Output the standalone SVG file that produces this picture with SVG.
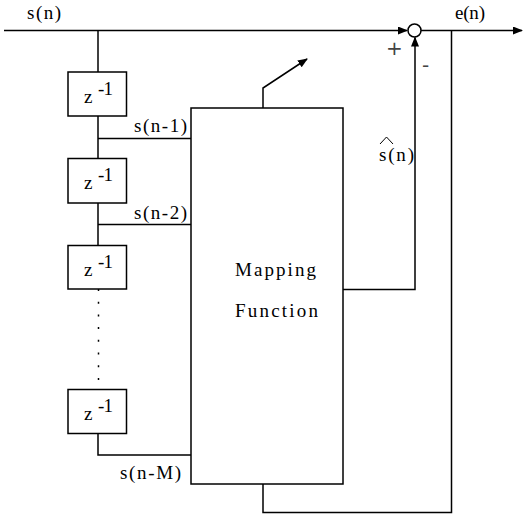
<svg xmlns="http://www.w3.org/2000/svg" width="525" height="515" viewBox="0 0 525 515" font-family="'Liberation Serif', 'DejaVu Serif', serif">
<defs>
<marker id="ah" markerWidth="10" markerHeight="8" refX="9" refY="4" orient="auto" markerUnits="userSpaceOnUse">
<path d="M0,0 L10,4 L0,8 Z" fill="#000"/>
</marker>
</defs>
<style>
.ln{fill:none;stroke:#000;stroke-width:1.5}
.bx{fill:#fff;stroke:#000;stroke-width:1.5}
.t{font-family:'Liberation Serif','DejaVu Serif',serif;font-size:19px;fill:#000}
.sg{font-family:'DejaVu Sans',sans-serif;font-size:20px;fill:#444}
</style>
<rect width="525" height="515" fill="#fff"/>
<g id="connectors">
<line class="ln" x1="4" y1="30.5" x2="407" y2="30.5" marker-end="url(#ah)"/>
<line class="ln" x1="421" y1="30.5" x2="522" y2="30.5" marker-end="url(#ah)"/>
<polyline class="ln" points="98,30.5 98,72"/>
<polyline class="ln" points="98,116 98,158"/>
<polyline class="ln" points="98,138.5 191,138.5"/>
<polyline class="ln" points="98,203 98,245"/>
<polyline class="ln" points="98,224.5 191,224.5"/>
<line class="ln" x1="98.5" y1="289" x2="98.5" y2="389" stroke-dasharray="2 10.7"/>
<polyline class="ln" points="98,433 98,455 191,455"/>
<polyline class="ln" points="343,289.5 415,289.5 415,37.5" marker-end="url(#ah)"/>
<polyline class="ln" points="451.5,30.5 451.5,512.5 263,512.5 263,484"/>
<polyline class="ln" points="263,108 263,88 307,59" marker-end="url(#ah)"/>
</g>
<g id="sum">
<circle class="bx" cx="414.5" cy="30.5" r="6.5"/>
<text class="sg" x="386" y="55">+</text>
<text class="sg" x="422" y="72">-</text>
</g>
<g id="delay1">
<rect class="bx" x="68" y="72" width="58.5" height="44"/>
<text class="t" x="84" y="103">z</text><text class="t" x="98" y="95" textLength="15">-1</text>
</g>
<g id="delay2">
<rect class="bx" x="68" y="158.5" width="58.5" height="44.5"/>
<text class="t" x="84" y="189">z</text><text class="t" x="98" y="181" textLength="15">-1</text>
</g>
<g id="delay3">
<rect class="bx" x="68" y="245.5" width="58.5" height="43.5"/>
<text class="t" x="84" y="276">z</text><text class="t" x="98" y="268" textLength="15">-1</text>
</g>
<g id="delay4">
<rect class="bx" x="68" y="389.5" width="58.5" height="44"/>
<text class="t" x="84" y="420">z</text><text class="t" x="98" y="412" textLength="15">-1</text>
</g>
<g id="mapping">
<rect class="bx" x="191" y="108" width="152" height="376"/>
<text class="t" x="235" y="276" textLength="81">Mapping</text>
<text class="t" x="235" y="317" textLength="83">Function</text>
</g>
<g id="labels">
<text class="t" x="27" y="19" textLength="34">s(n)</text>
<text class="t" x="455" y="19" textLength="30">e(n)</text>
<text class="t" x="134" y="132" textLength="53">s(n-1)</text>
<text class="t" x="134" y="219" textLength="53">s(n-2)</text>
<text class="t" x="120" y="479" textLength="61">s(n-M)</text>
<text class="t" x="379" y="161" textLength="35">s(n)</text>
<polyline points="380,144 386.5,137 393,144" fill="none" stroke="#000" stroke-width="1"/>
</g>
</svg>
